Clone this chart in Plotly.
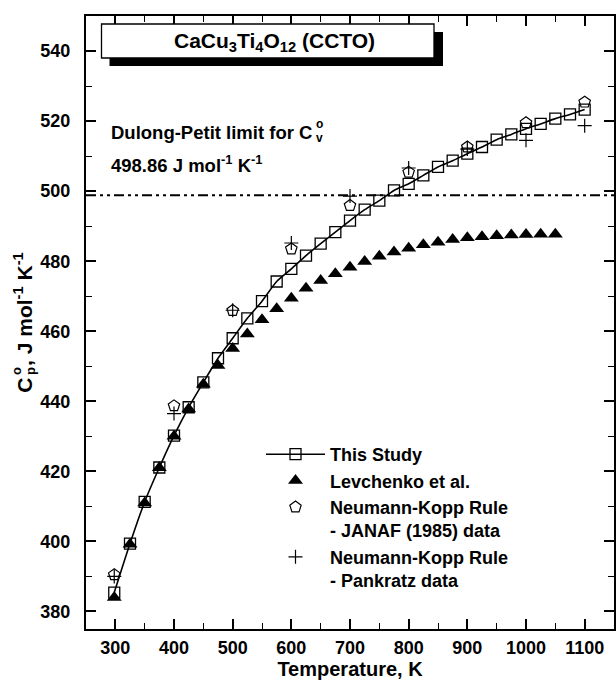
import plotly.graph_objects as go

# ---------------- data ----------------
T_study = [298.15, 325, 350, 375, 400, 425, 450, 475, 500, 525, 550, 575, 600, 625, 650,
           675, 700, 725, 750, 775, 800, 825, 850, 875, 900, 925, 950, 975, 1000, 1025,
           1050, 1075, 1100]
Cp_study = [385.4, 399.4, 411.3, 421.1, 430.2, 438.3, 445.4, 452.3, 458.0, 463.7, 468.6,
            474.2, 477.8, 481.6, 485.0, 488.3, 491.6, 494.7, 497.3, 500.2, 502.1, 504.5,
            506.9, 508.7, 510.7, 512.6, 514.7, 516.2, 517.8, 519.2, 520.7, 521.9, 523.3]

T_levchenko = [298.15, 325, 350, 375, 400, 425, 450, 475, 500, 525, 550, 575, 600, 625,
               650, 675, 700, 725, 750, 775, 800, 825, 850, 875, 900, 925, 950, 975, 1000,
               1025, 1050]
Cp_levchenko = [384.0, 399.2, 411.0, 421.0, 430.0, 437.8, 444.9, 450.2, 455.1, 459.2,
                463.3, 466.4, 469.4, 472.3, 474.5, 476.4, 478.3, 479.9, 481.4, 482.6,
                483.7, 484.7, 485.4, 486.2, 486.7, 487.0, 487.3, 487.5, 487.6, 487.7, 487.7]

T_nk = [298.15, 400, 500, 600, 700, 800, 900, 1000, 1100]
Cp_janaf = [390.5, 438.7, 465.9, 483.5, 495.9, 505.4, 512.6, 519.5, 525.4]
Cp_pankratz = [390.0, 436.5, 466.0, 485.2, 498.6, 506.6, 512.0, 514.5, 518.7]

dulong_petit = 498.86

x_ticks = [300, 400, 500, 600, 700, 800, 900, 1000, 1100]
y_ticks = [380, 400, 420, 440, 460, 480, 500, 520, 540]

# ---------------- layout geometry ----------------
W, H = 616, 680
ML, MR, MT, MB = 86, 2, 16, 51
PW, PH = W - ML - MR, H - MT - MB


def px(xp):
    return (xp - ML) / PW


def py(yp):
    return (H - MB - yp) / PH


FONT = "Liberation Sans, Arial, Helvetica, sans-serif"

fig = go.Figure()

fig.add_trace(go.Scatter(
    x=T_study, y=Cp_study, mode="lines+markers", name="This Study",
    line=dict(color="black", width=1.6, shape="spline", smoothing=0.6),
    marker=dict(symbol="square-open", size=11, color="black", line=dict(width=1.3)),
))
fig.add_trace(go.Scatter(
    x=T_levchenko, y=Cp_levchenko, mode="markers", name="Levchenko et al.",
    marker=dict(symbol="triangle-up", size=13, color="black"),
))
fig.add_trace(go.Scatter(
    x=T_nk, y=Cp_janaf, mode="markers",
    name="Neumann-Kopp Rule<br>- JANAF (1985) data",
    marker=dict(symbol="pentagon-open", size=12, color="black", line=dict(width=1.2)),
))
fig.add_trace(go.Scatter(
    x=T_nk, y=Cp_pankratz, mode="markers",
    name="Neumann-Kopp Rule<br>- Pankratz data",
    marker=dict(symbol="cross-thin-open", size=10, color="black", line=dict(width=1.2)),
))

# Dulong-Petit limit line
fig.add_shape(type="line", xref="paper", yref="y", x0=0, x1=1,
              y0=dulong_petit, y1=dulong_petit,
              line=dict(color="black", width=2, dash="10px,4px,3px,4px,3px,4px"))

# Title box with shadow
fig.add_shape(type="rect", xref="paper", yref="paper",
              x0=px(109.5), x1=px(443), y0=py(66), y1=py(32),
              fillcolor="black", line=dict(width=0), layer="above")
fig.add_shape(type="rect", xref="paper", yref="paper",
              x0=px(101.5), x1=px(434), y0=py(58), y1=py(24),
              fillcolor="white", line=dict(color="black", width=1.3), layer="above")

annos = [
    dict(text="CaCu<sub>3</sub>Ti<sub>4</sub>O<sub>12</sub> (CCTO)",
         x=px(274), y=py(42), xanchor="center", yanchor="middle", font=dict(size=21)),
    dict(text="Dulong-Petit limit for C", x=px(109), y=py(132),
         xanchor="left", yanchor="middle", font=dict(size=18.5)),
    dict(text="o", x=px(319), y=py(124), xanchor="center", yanchor="middle",
         font=dict(size=12)),
    dict(text="v", x=px(319), y=py(138), xanchor="center", yanchor="middle",
         font=dict(size=12)),
    dict(text="498.86 J mol<sup>-1</sup> K<sup>-1</sup>", x=px(109), y=py(164),
         xanchor="left", yanchor="middle", font=dict(size=18.5)),
    # stacked super/subscript of the y-axis title (C°p)
    dict(text="o", x=px(16), y=py(371), xanchor="center", yanchor="middle",
         textangle=-90, font=dict(size=13)),
    dict(text="p", x=px(30), y=py(371), xanchor="center", yanchor="middle",
         textangle=-90, font=dict(size=13)),
]
for a in annos:
    a.update(xref="paper", yref="paper", showarrow=False)
    fig.add_annotation(**a)

axis_common = dict(
    showline=True, linecolor="black", linewidth=2, mirror="allticks",
    ticks="inside", ticklen=10, tickwidth=1.6, tickcolor="black",
    showgrid=False, zeroline=False,
    tickfont=dict(size=18, color="black"),
)

fig.update_xaxes(
    range=[250, 1150], tickvals=x_ticks,
    minor=dict(dtick=50, tick0=250, ticks="inside", ticklen=6, tickwidth=1.4,
               tickcolor="black", showgrid=False),
    title=dict(text="Temperature, K", font=dict(size=20, color="black"), standoff=4),
    ticklabelstandoff=1,
    **axis_common,
)
fig.update_yaxes(
    range=[375, 550], tickvals=y_ticks,
    minor=dict(dtick=10, tick0=370, ticks="inside", ticklen=6, tickwidth=1.4,
               tickcolor="black", showgrid=False),
    title=dict(text="C&nbsp;&nbsp;, J mol<sup>-1</sup> K<sup>-1</sup>",
               font=dict(size=21, color="black"), standoff=2),
    ticklabelstandoff=10,
    **axis_common,
)

fig.update_layout(
    width=W, height=H,
    margin=dict(l=ML, r=MR, t=MT, b=MB, autoexpand=False),
    paper_bgcolor="white", plot_bgcolor="white",
    font=dict(family=FONT, color="black", weight="bold"),
    showlegend=True,
    legend=dict(
        x=px(261), y=py(436), xanchor="left", yanchor="top",
        bgcolor="rgba(0,0,0,0)", borderwidth=0,
        font=dict(size=18, color="black"),
        itemwidth=59, valign="top", tracegroupgap=0,
    ),
)

fig.write_html("out.html")
